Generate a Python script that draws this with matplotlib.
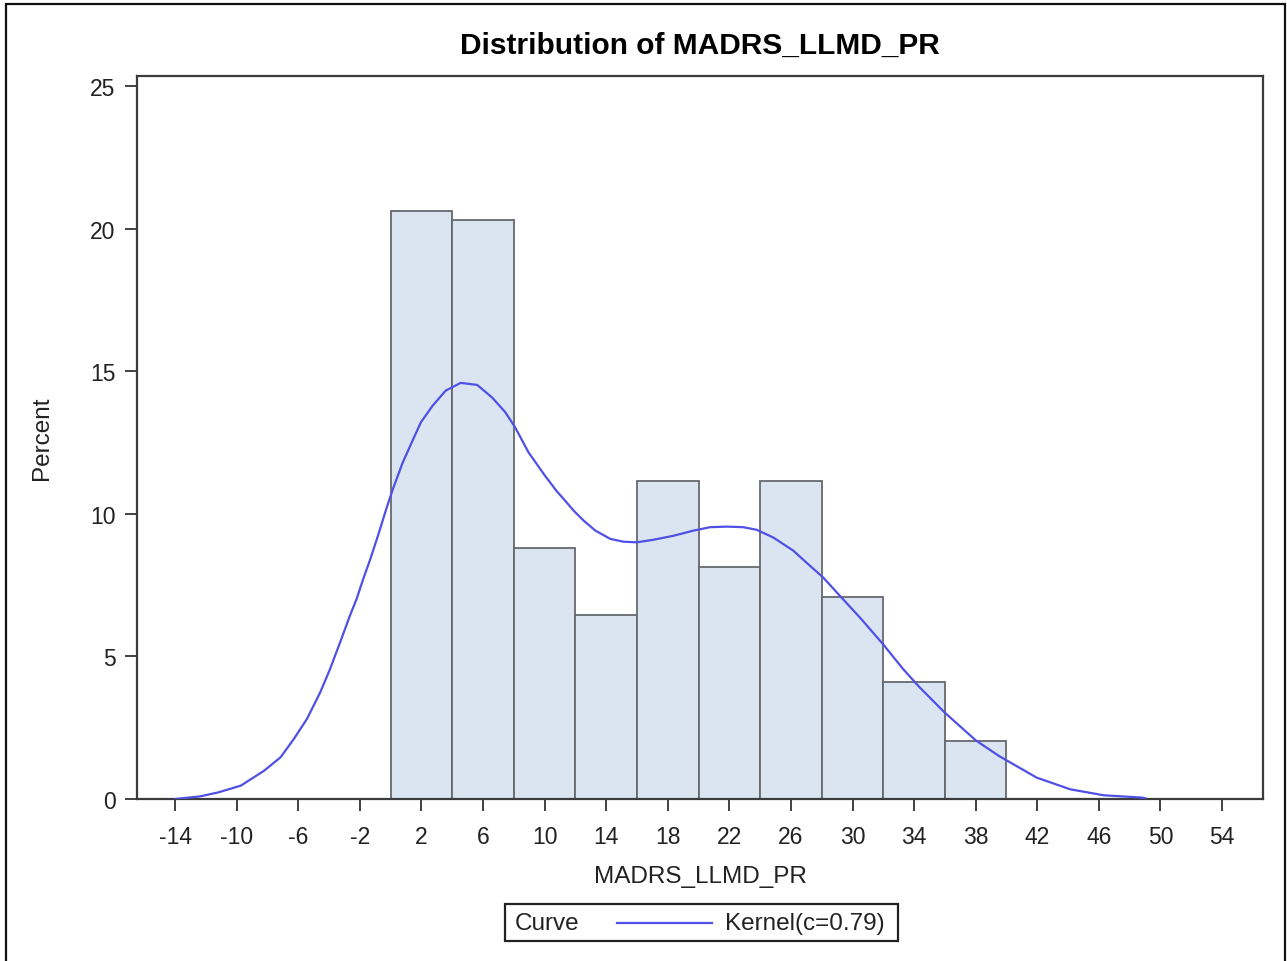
import matplotlib
matplotlib.use("Agg")
import matplotlib.pyplot as plt
from matplotlib.patches import Rectangle
from matplotlib.lines import Line2D

plt.rcParams['font.family'] = ['Liberation Sans', 'DejaVu Sans']
plt.rcParams['axes.unicode_minus'] = False

# histogram: bins of width 4 starting at 0
bin_mids = [2, 6, 10, 14, 18, 22, 26, 30, 34, 38]
bin_pct = [20.6, 20.3, 8.8, 6.45, 11.15, 8.15, 11.15, 7.1, 4.1, 2.05]
bin_width = 4

# kernel density curve (c=0.79), percent scale
kde_x = [-14.0, -12.4, -11.2, -9.72, -8.22, -7.15, -6.29, -5.43, -4.57, -3.93,
         -3.28, -2.64, -2.21, -1.78, -1.35, -0.82, -0.28, 0.15, 0.79, 1.33,
         1.97, 2.73, 3.58, 4.55, 5.62, 6.59, 7.45, 8.09, 8.95, 10.02,
         10.81, 11.24, 11.89, 12.54, 13.30, 14.27, 15.13, 15.99, 17.08, 18.37,
         19.67, 20.75, 21.83, 22.91, 23.77, 24.85, 26.15, 27.23, 28.09, 29.17,
         30.47, 31.98, 33.28, 34.35, 35.97, 36.94, 38.02, 39.54, 41.96, 44.14,
         46.32, 48.78, 49.0]
kde_y = [0.0, 0.09, 0.23, 0.47, 0.99, 1.46, 2.10, 2.81, 3.74, 4.56,
         5.49, 6.43, 7.01, 7.71, 8.36, 9.23, 10.17, 10.87, 11.80, 12.45,
         13.21, 13.79, 14.32, 14.59, 14.52, 14.08, 13.56, 13.03, 12.16, 11.34,
         10.78, 10.52, 10.11, 9.76, 9.41, 9.12, 9.02, 9.00, 9.09, 9.23,
         9.41, 9.53, 9.55, 9.53, 9.44, 9.17, 8.71, 8.18, 7.77, 7.13,
         6.37, 5.43, 4.56, 3.92, 3.04, 2.57, 2.05, 1.50, 0.75, 0.34,
         0.13, 0.05, 0.03]

x_ticks = list(range(-14, 55, 4))
y_ticks = [0, 5, 10, 15, 20, 25]

W, H = 1287, 962
fig = plt.figure(figsize=(W / 100, H / 100), dpi=100)
ax = fig.add_axes([137 / W, 1 - 800 / H, (1263 - 137) / W, (800 - 77) / H])

ax.bar(bin_mids, bin_pct, width=bin_width, color='#dbe5f1',
       edgecolor='#66696d', linewidth=1.3, zorder=2)
ax.plot(kde_x, kde_y, color='#5050e6', linewidth=1.6, zorder=3,
        solid_joinstyle='round')

ax.set_xlim(-16.47, 56.66)
ax.set_ylim(0, 25.35)
ax.set_xticks(x_ticks)
ax.set_yticks(y_ticks)
ax.tick_params(axis='both', direction='out', length=8.5, width=1.3,
               color='#333333', labelsize=16.5, labelcolor='#222222')
ax.tick_params(axis='x', pad=10)
ax.tick_params(axis='y', pad=7)
for s in ax.spines.values():
    s.set_color('#3c3c3c')
    s.set_linewidth(1.6)

fig.text(700 / W, 1 - 46 / H, 'Distribution of MADRS_LLMD_PR',
         ha='center', va='center', fontsize=21.5, fontweight='bold')
fig.text(700 / W, 1 - 877 / H, 'MADRS_LLMD_PR', ha='center', va='center',
         fontsize=17.5, color='#222222')
fig.text(42 / W, 1 - 438 / H, 'Percent', ha='center', va='center',
         rotation=90, fontsize=17.5, color='#222222')

# legend box below the axis label
fig.add_artist(Rectangle((505 / W, 1 - 942 / H), (898 - 505) / W, (942 - 905) / H,
                         transform=fig.transFigure, facecolor='white',
                         edgecolor='#222222', linewidth=1.6))
fig.text(515 / W, 1 - 924 / H, 'Curve', ha='left', va='center',
         fontsize=17.5, color='#222222')
fig.add_artist(Line2D([617 / W, 712 / W], [1 - 924 / H, 1 - 924 / H],
                      transform=fig.transFigure, color='#5050e6', linewidth=1.6))
fig.text(725 / W, 1 - 924 / H, 'Kernel(c=0.79)', ha='left', va='center',
         fontsize=17.5, color='#222222')

# outer frame
fig.add_artist(Rectangle((6 / W, -0.05), (1285 - 6) / W, 1.05 - 5 / H,
                         transform=fig.transFigure, facecolor='none',
                         edgecolor='#111111', linewidth=1.6))

fig.savefig('out.png', dpi=100)
